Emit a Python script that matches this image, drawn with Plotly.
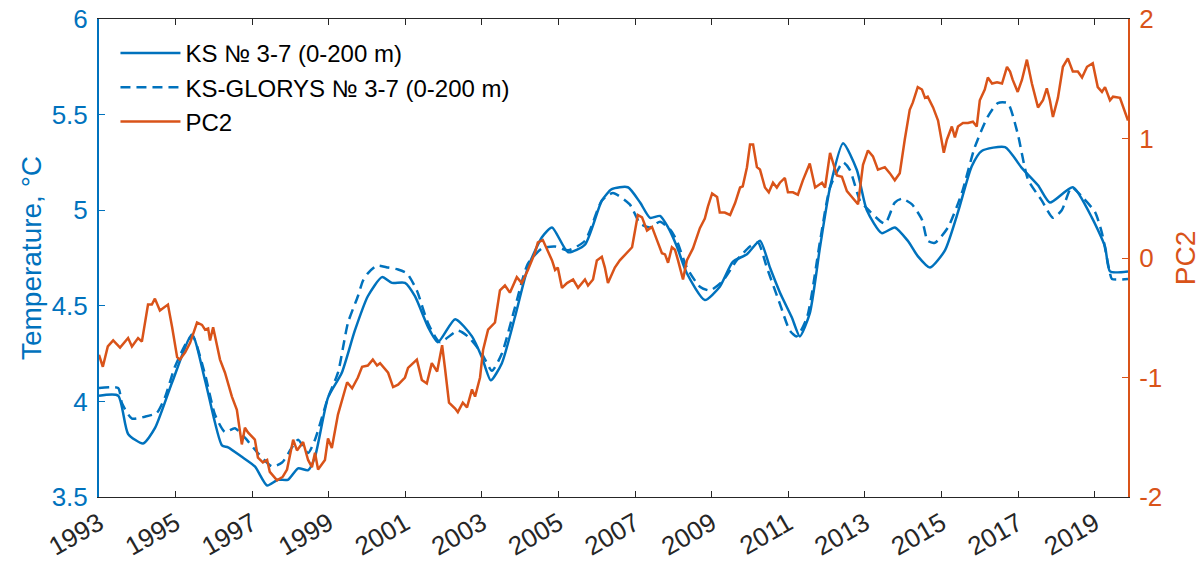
import plotly.graph_objects as go

# ---------------- data ----------------
ks_year = [1993.00, 1993.50, 1993.76, 1994.15, 1994.46, 1994.91, 1995.43, 1995.77, 1996.21, 1996.37,
           1996.73, 1997.07, 1997.39, 1997.67, 1997.93, 1998.20, 1998.46, 1998.64, 1998.98, 1999.34,
           1999.68, 2000.02, 2000.39, 2000.65, 2000.99, 2001.25, 2001.59, 2001.85, 2002.30, 2002.74,
           2003.00, 2003.23, 2003.52, 2003.86, 2004.20, 2004.57, 2004.83, 2005.25, 2005.69, 2006.13,
           2006.39, 2006.81, 2007.13, 2007.39, 2007.65, 2007.86, 2008.09, 2008.35, 2008.82, 2009.21,
           2009.55, 2009.92, 2010.26, 2010.52, 2010.78, 2011.09, 2011.30, 2011.56, 2011.83, 2012.09,
           2012.43, 2012.79, 2013.05, 2013.44, 2013.78, 2014.12, 2014.38, 2014.70, 2015.09, 2015.43,
           2015.79, 2016.05, 2016.66, 2017.10, 2017.52, 2017.83, 2018.43, 2018.93, 2019.27, 2019.40,
           2019.87]
ks_temp = [4.03, 4.03, 3.83, 3.78, 3.86, 4.10, 4.35, 4.11, 3.77, 3.76,
           3.71, 3.66, 3.56, 3.59, 3.59, 3.65, 3.64, 3.71, 4.02, 4.15,
           4.37, 4.55, 4.65, 4.62, 4.62, 4.55, 4.39, 4.31, 4.43, 4.34,
           4.23, 4.11, 4.20, 4.44, 4.70, 4.86, 4.91, 4.78, 4.82, 5.05,
           5.11, 5.12, 5.04, 4.96, 4.97, 4.91, 4.81, 4.67, 4.53, 4.60,
           4.73, 4.77, 4.84, 4.70, 4.57, 4.44, 4.34, 4.46, 4.81, 5.12,
           5.35, 5.21, 5.00, 4.88, 4.91, 4.84, 4.76, 4.70, 4.79, 4.99,
           5.23, 5.31, 5.33, 5.22, 5.13, 5.04, 5.12, 4.96, 4.81, 4.68,
           4.68]

glorys_year = [1993.00, 1993.50, 1993.60, 1993.86, 1994.20, 1994.51, 1994.72, 1994.98, 1995.32, 1995.45,
               1995.77, 1996.03, 1996.29, 1996.55, 1996.81, 1997.15, 1997.52, 1997.78, 1998.04, 1998.20,
               1998.46, 1998.64, 1998.98, 1999.24, 1999.50, 1999.76, 1999.89, 2000.02, 2000.26, 2000.55,
               2000.81, 2001.04, 2001.30, 2001.59, 2001.90, 2002.37, 2002.63, 2003.00, 2003.26, 2003.52,
               2003.86, 2004.20, 2004.57, 2004.91, 2005.25, 2005.69, 2006.13, 2006.42, 2006.86, 2007.13,
               2007.39, 2007.65, 2007.91, 2008.09, 2008.35, 2008.69, 2008.95, 2009.29, 2009.66, 2010.00,
               2010.21, 2010.44, 2010.78, 2011.04, 2011.22, 2011.49, 2011.83, 2012.09, 2012.43, 2012.61,
               2012.87, 2013.00, 2013.52, 2013.78, 2013.97, 2014.23, 2014.49, 2014.64, 2014.83, 2015.17,
               2015.53, 2015.87, 2016.21, 2016.47, 2016.73, 2016.99, 2017.26, 2017.62, 2017.91, 2018.14,
               2018.40, 2018.67, 2019.01, 2019.19, 2019.40, 2019.45, 2019.87]
glorys_temp = [4.07, 4.07, 3.99, 3.91, 3.92, 3.94, 4.02, 4.18, 4.32, 4.34,
               4.14, 3.93, 3.84, 3.86, 3.81, 3.73, 3.66, 3.68, 3.76, 3.80,
               3.73, 3.80, 4.02, 4.15, 4.41, 4.55, 4.63, 4.67, 4.71, 4.70,
               4.69, 4.67, 4.58, 4.41, 4.31, 4.37, 4.34, 4.25, 4.16, 4.25,
               4.49, 4.72, 4.80, 4.81, 4.79, 4.84, 5.05, 5.09, 5.03, 4.93,
               4.91, 4.94, 4.90, 4.84, 4.70, 4.60, 4.58, 4.63, 4.74, 4.81,
               4.83, 4.70, 4.51, 4.37, 4.34, 4.44, 4.84, 5.12, 5.25, 5.21,
               5.05, 5.02, 4.93, 5.04, 5.06, 5.03, 4.95, 4.84, 4.83, 4.91,
               5.09, 5.33, 5.49, 5.56, 5.56, 5.40, 5.16, 5.05, 4.96, 5.00,
               5.12, 5.07, 4.99, 4.88, 4.67, 4.64, 4.64]

pc2_year = [1993.00, 1993.10, 1993.23, 1993.37, 1993.55, 1993.76, 1993.86, 1994.02, 1994.12, 1994.28,
            1994.38, 1994.46, 1994.59, 1994.80, 1994.91, 1995.04, 1995.11, 1995.25, 1995.38, 1995.56,
            1995.69, 1995.77, 1995.85, 1995.90, 1995.98, 1996.16, 1996.29, 1996.47, 1996.60, 1996.73,
            1996.81, 1996.89, 1997.07, 1997.15, 1997.28, 1997.39, 1997.46, 1997.65, 1997.80, 1997.91,
            1998.07, 1998.17, 1998.33, 1998.46, 1998.56, 1998.64, 1998.72, 1998.90, 1998.98, 1999.08,
            1999.24, 1999.48, 1999.61, 1999.76, 1999.87, 2000.02, 2000.15, 2000.26, 2000.34, 2000.55,
            2000.68, 2000.81, 2000.99, 2001.07, 2001.30, 2001.43, 2001.56, 2001.69, 2001.83, 2001.96,
            2002.03, 2002.14, 2002.30, 2002.37, 2002.50, 2002.61, 2002.74, 2002.82, 2002.95, 2003.03,
            2003.16, 2003.34, 2003.47, 2003.60, 2003.73, 2003.91, 2004.04, 2004.20, 2004.38, 2004.46,
            2004.59, 2004.70, 2004.83, 2004.91, 2004.98, 2005.09, 2005.22, 2005.38, 2005.51, 2005.69,
            2005.77, 2005.90, 2006.00, 2006.13, 2006.21, 2006.29, 2006.47, 2006.60, 2006.79, 2006.92,
            2007.07, 2007.18, 2007.31, 2007.44, 2007.57, 2007.70, 2007.78, 2007.86, 2007.96, 2008.04,
            2008.12, 2008.25, 2008.35, 2008.51, 2008.69, 2008.82, 2008.90, 2009.01, 2009.14, 2009.21,
            2009.34, 2009.48, 2009.61, 2009.74, 2009.81, 2009.92, 2010.00, 2010.08, 2010.18, 2010.26,
            2010.39, 2010.49, 2010.60, 2010.70, 2010.78, 2010.91, 2010.99, 2011.12, 2011.25, 2011.38,
            2011.56, 2011.70, 2011.88, 2011.96, 2012.09, 2012.27, 2012.40, 2012.53, 2012.66, 2012.82,
            2012.95, 2013.08, 2013.21, 2013.34, 2013.52, 2013.65, 2013.78, 2013.91, 2014.04, 2014.17,
            2014.25, 2014.38, 2014.49, 2014.57, 2014.64, 2014.78, 2014.91, 2015.06, 2015.14, 2015.27,
            2015.35, 2015.43, 2015.56, 2015.69, 2015.82, 2015.92, 2016.00, 2016.13, 2016.21, 2016.32,
            2016.45, 2016.58, 2016.71, 2016.79, 2016.86, 2016.99, 2017.10, 2017.23, 2017.36, 2017.52,
            2017.65, 2017.75, 2017.83, 2017.91, 2018.04, 2018.17, 2018.30, 2018.43, 2018.56, 2018.67,
            2018.80, 2018.95, 2019.08, 2019.19, 2019.27, 2019.40, 2019.48, 2019.66, 2019.87]
pc2 = [-0.81, -0.91, -0.74, -0.69, -0.75, -0.67, -0.74, -0.67, -0.70, -0.39,
       -0.39, -0.34, -0.44, -0.39, -0.58, -0.83, -0.85, -0.79, -0.71, -0.54,
       -0.56, -0.60, -0.59, -0.69, -0.58, -0.85, -0.96, -1.16, -1.27, -1.56,
       -1.42, -1.46, -1.52, -1.67, -1.71, -1.69, -1.79, -1.86, -1.83, -1.77,
       -1.52, -1.61, -1.54, -1.69, -1.75, -1.63, -1.77, -1.69, -1.51, -1.59,
       -1.31, -1.04, -1.09, -1.00, -0.91, -0.90, -0.85, -0.90, -0.88, -0.96,
       -1.08, -1.06, -1.00, -0.92, -0.85, -1.02, -1.05, -0.88, -0.95, -0.73,
       -0.91, -1.21, -1.26, -1.29, -1.21, -1.25, -1.10, -1.16, -1.00, -0.77,
       -0.60, -0.54, -0.27, -0.23, -0.29, -0.16, -0.21, -0.10, 0.04, 0.13,
       0.15, 0.07, -0.02, -0.10, -0.08, -0.25, -0.21, -0.18, -0.25, -0.18,
       -0.23, -0.18, -0.02, 0.01, -0.08, -0.21, -0.08, -0.02, 0.05, 0.09,
       0.36, 0.34, 0.23, 0.26, 0.15, 0.04, 0.03, -0.04, 0.09, 0.07,
       -0.02, -0.18, -0.02, 0.08, 0.25, 0.33, 0.43, 0.54, 0.51, 0.38,
       0.38, 0.36, 0.46, 0.59, 0.60, 0.76, 0.95, 0.95, 0.76, 0.74,
       0.59, 0.55, 0.63, 0.59, 0.63, 0.67, 0.55, 0.55, 0.53, 0.65,
       0.79, 0.59, 0.63, 0.59, 0.88, 0.69, 0.68, 0.56, 0.51, 0.45,
       0.78, 0.90, 0.85, 0.74, 0.76, 0.71, 0.65, 0.71, 0.99, 1.24,
       1.30, 1.43, 1.41, 1.34, 1.35, 1.26, 1.15, 0.88, 0.99, 1.10,
       1.01, 1.10, 1.13, 1.13, 1.14, 1.10, 1.32, 1.41, 1.51, 1.46,
       1.47, 1.46, 1.60, 1.56, 1.49, 1.39, 1.49, 1.66, 1.46, 1.26,
       1.32, 1.42, 1.32, 1.18, 1.34, 1.60, 1.67, 1.56, 1.56, 1.51,
       1.60, 1.63, 1.43, 1.39, 1.43, 1.32, 1.35, 1.34, 1.15]

x_ticks = [1993, 1995, 1997, 1999, 2001, 2003, 2005, 2007, 2009, 2011, 2013, 2015, 2017, 2019]
y_ticks = [3.5, 4, 4.5, 5, 5.5, 6]
y2_ticks = [-2, -1, 0, 1, 2]

BLUE = "#0072BD"
ORANGE = "#D95319"
DARK = "#262626"
FONT = "Liberation Sans, Arial, sans-serif"
TICK_SIZE = 26
TITLE_SIZE = 28

fig = go.Figure()
fig.add_trace(go.Scatter(x=ks_year, y=ks_temp, mode="lines", name="KS № 3-7 (0-200 m)",
                         line=dict(color=BLUE, width=2.5, shape="spline", smoothing=0.6), yaxis="y"))
fig.add_trace(go.Scatter(x=glorys_year, y=glorys_temp, mode="lines", name="KS-GLORYS № 3-7 (0-200 m)",
                         line=dict(color=BLUE, width=2.5, dash="10px,6px", shape="spline", smoothing=0.6),
                         yaxis="y"))
fig.add_trace(go.Scatter(x=pc2_year, y=pc2, mode="lines", name="PC2",
                         line=dict(color=ORANGE, width=2.5), yaxis="y2"))

fig.update_layout(
    width=1202, height=562,
    margin=dict(l=99, r=74, t=19, b=65, autoexpand=False),
    paper_bgcolor="white", plot_bgcolor="white",
    font=dict(family=FONT, size=24, color=DARK),
    showlegend=True,
    legend=dict(x=0.016, y=0.975, xanchor="left", yanchor="top",
                bgcolor="rgba(0,0,0,0)", font=dict(size=24, color="black", family=FONT),
                itemwidth=60, tracegroupgap=0),
    xaxis=dict(range=[1993, 2019.87], tickmode="array", tickvals=x_ticks,
               ticktext=[str(v) for v in x_ticks], tickangle=-30, automargin=False,
               ticks="inside", ticklen=6, tickcolor=DARK, tickwidth=1,
               showline=True, linecolor=DARK, linewidth=1, mirror="ticks",
               showgrid=False, zeroline=False,
               tickfont=dict(size=TICK_SIZE, color=DARK, family=FONT)),
    yaxis=dict(range=[3.5, 6], tickmode="array", tickvals=y_ticks,
               ticktext=["3.5", "4", "4.5", "5", "5.5", "6"], automargin=False,
               ticks="inside", ticklen=6, tickcolor=BLUE, tickwidth=1,
               showline=True, linecolor=BLUE, linewidth=2, ticklabelstandoff=4,
               showgrid=False, zeroline=False,
               tickfont=dict(size=TICK_SIZE, color=BLUE, family=FONT),
               title=dict(text="Temperature, °C", font=dict(size=TITLE_SIZE, color=BLUE, family=FONT),
                          standoff=2)),
    yaxis2=dict(range=[-2, 2], tickmode="array", tickvals=y2_ticks,
                ticktext=[str(v) for v in y2_ticks], automargin=False,
                overlaying="y", side="right",
                ticks="inside", ticklen=6, tickcolor=ORANGE, tickwidth=1,
                showline=True, linecolor=ORANGE, linewidth=2, ticklabelstandoff=4,
                showgrid=False, zeroline=False,
                tickfont=dict(size=TICK_SIZE, color=ORANGE, family=FONT),
                title=dict(text="PC2", font=dict(size=TITLE_SIZE, color=ORANGE, family=FONT), standoff=14)),
)

fig.write_html("out.html", config={"displayModeBar": False},
               post_script="document.body.style.margin='0';document.body.style.padding='0';")
